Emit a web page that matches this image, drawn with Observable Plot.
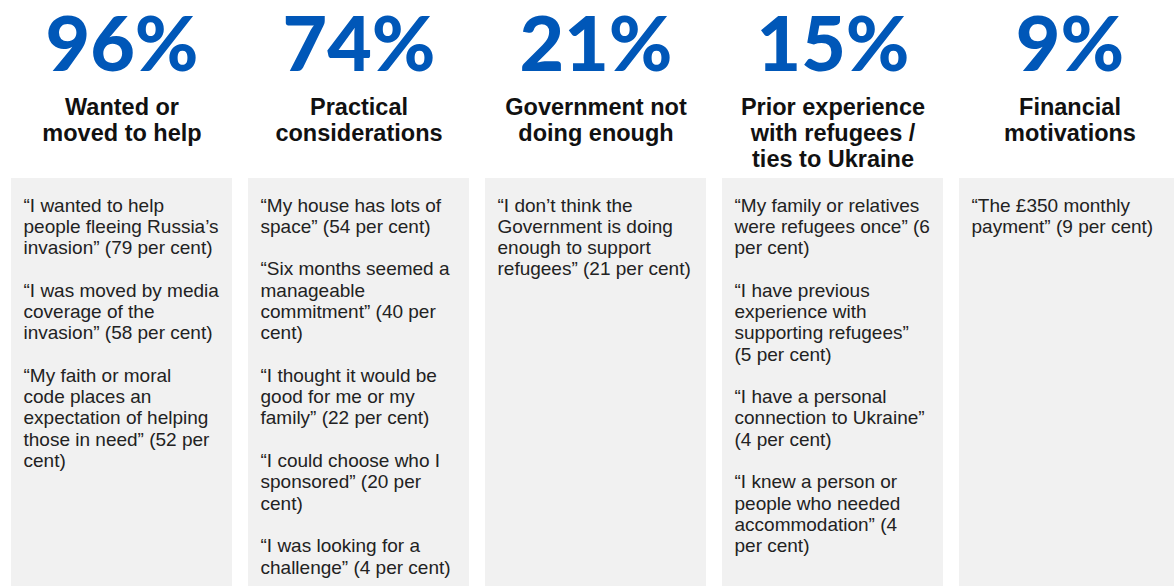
<!DOCTYPE html>
<html>
<head>
<meta charset="utf-8">
<script src="https://cdn.jsdelivr.net/npm/d3@7"></script>
<script src="https://cdn.jsdelivr.net/npm/@observablehq/plot@0.6"></script>
<style>
  html, body { margin: 0; padding: 0; background: #ffffff; }
  #chart svg { display: block; }
</style>
</head>
<body>
<div id="chart"></div>
<script>
// ---- Data ----
const percents = [96, 74, 21, 15, 9];

const headings = [
  "Wanted or\nmoved to help",
  "Practical\nconsiderations",
  "Government not\ndoing enough",
  "Prior experience\nwith refugees /\nties to Ukraine",
  "Financial\nmotivations"
];

const quotes = [
  [
    "“I wanted to help\npeople fleeing Russia’s\ninvasion” (79 per cent)",
    "“I was moved by media\ncoverage of the\ninvasion” (58 per cent)",
    "“My faith or moral\ncode places an\nexpectation of helping\nthose in need” (52 per\ncent)"
  ],
  [
    "“My house has lots of\nspace” (54 per cent)",
    "“Six months seemed a\nmanageable\ncommitment” (40 per\ncent)",
    "“I thought it would be\ngood for me or my\nfamily” (22 per cent)",
    "“I could choose who I\nsponsored” (20 per\ncent)",
    "“I was looking for a\nchallenge” (4 per cent)"
  ],
  [
    "“I don’t think the\nGovernment is doing\nenough to support\nrefugees” (21 per cent)"
  ],
  [
    "“My family or relatives\nwere refugees once” (6\nper cent)",
    "“I have previous\nexperience with\nsupporting refugees”\n(5 per cent)",
    "“I have a personal\nconnection to Ukraine”\n(4 per cent)",
    "“I knew a person or\npeople who needed\naccommodation” (4\nper cent)"
  ],
  [
    "“The £350 monthly\npayment” (9 per cent)"
  ]
];

// ---- Build table ----
const cols = percents.map((p, i) => ({
  i,
  label: `${p}%`,
  heading: headings[i],
  body: quotes[i].join("\n\n")
}));

const BOX = 221 / 237;         // box width as fraction of column pitch
const PAD = 12 / 237;          // inner left padding
const NUMFONT = "Lato, sans-serif";
const FONT = "'Liberation Sans', Arial, sans-serif";
const BLUE = "#0057b8";

const HEAD_FS = 23.5, HEAD_LH = 26.5;
const BODY_FS = 19, BODY_LH = 21.3;

const chart = Plot.plot({
  width: 1174,
  height: 586,
  margin: 0,
  style: { fontFamily: FONT, background: "#ffffff" },
  x: { type: "linear", domain: [0, 5], range: [11, 1196], axis: null },
  y: { type: "linear", domain: [0, 586], range: [0, 586], axis: null },
  marks: [
    Plot.rect(cols, {
      x1: d => d.i,
      x2: d => d.i + BOX,
      y1: 178,
      y2: 586,
      fill: "#f1f1f1"
    }),
    Plot.text(cols, {
      x: d => d.i + BOX / 2,
      y: 70,
      text: "label",
      lineAnchor: "bottom",
      fontSize: 77,
      fontWeight: 900,
      fill: BLUE,
      fontFamily: NUMFONT
    }),
    Plot.text(cols, {
      x: d => d.i + BOX / 2,
      y: 114 - 0.71 * HEAD_LH,
      text: "heading",
      lineAnchor: "top",
      lineHeight: HEAD_LH / HEAD_FS,
      fontSize: HEAD_FS,
      fontWeight: 700,
      fill: "#111111",
      fontFamily: FONT
    }),
    Plot.text(cols, {
      x: d => d.i + PAD,
      y: 211 - 0.71 * BODY_LH,
      text: "body",
      textAnchor: "start",
      lineAnchor: "top",
      lineHeight: BODY_LH / BODY_FS,
      fontSize: BODY_FS,
      fill: "#222222",
      fontFamily: FONT
    })
  ]
});

document.getElementById("chart").appendChild(chart);
</script>
</body>
</html>
